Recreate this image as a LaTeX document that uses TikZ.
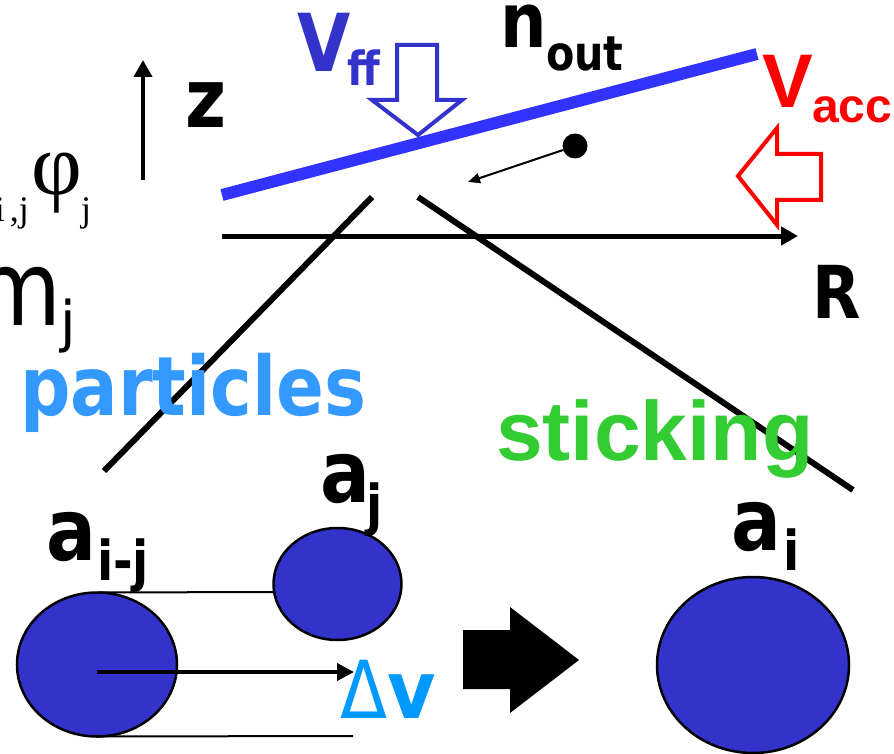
\documentclass[tikz,border=0pt]{standalone}
\usepackage{fontspec}
\usetikzlibrary{arrows.meta,shapes.geometric}
\newfontfamily\tah[FakeStretch=0.86]{DejaVu Sans}
\newfontfamily\tahw[FakeStretch=0.93]{DejaVu Sans}
\newfontfamily\dvs{DejaVu Sans}
\newfontfamily\ari{Liberation Sans}
\newfontfamily\tms{Liberation Serif}
\definecolor{surf}{RGB}{51,51,255}
\definecolor{vff}{RGB}{51,51,204}
\definecolor{part}{RGB}{51,153,255}
\definecolor{stick}{RGB}{51,204,51}
\definecolor{dvc}{RGB}{0,153,255}
\definecolor{acc}{RGB}{255,0,0}
\newcommand{\fsz}[1]{\fontsize{#1}{#1}\selectfont}
\begin{document}
\begin{tikzpicture}[x=1pt,y=-1pt,
  lbl/.style={anchor=base west,inner sep=0pt,outer sep=0pt},
  lble/.style={anchor=base east,inner sep=0pt,outer sep=0pt},
  grain/.style={ellipse,draw=black,line width=2.5pt,fill=vff,inner sep=0pt,outer sep=0pt},
  axisarrow/.style={line width=#1,-{Triangle[length=17pt,width=18pt]}},
  crossline/.style={line width=6pt},
  thinline/.style={line width=2pt},
  hollowarrow/.style={line width=4pt,fill=white,line join=miter},
]
\useasboundingbox (0,0) rectangle (894,754);
\clip (0,0) rectangle (894,754);

% ---- top: surface and axes ----
\coordinate (zb) at (143,180);
\coordinate (zt) at (143,60);
\draw[axisarrow=4pt] (zb) -- (zt);
\node[lbl] (zl) at (185,128) {\tah\bfseries\fsz{82}z};

\coordinate (sl) at (222,195);
\coordinate (sr) at (757,54);
\draw[line width=12pt,surf] (sl) -- (sr);

\coordinate (rl) at (222,236);
\coordinate (rr) at (798,236);
\draw[axisarrow=5pt] (rl) -- (rr);
\node[lbl] (rl2) at (812,318) {\tah\bfseries\fsz{73}R};

\coordinate (c1a) at (372,197);
\coordinate (c1b) at (104,471);
\coordinate (c2a) at (418,197);
\coordinate (c2b) at (853,490);
\draw[crossline] (c1a) -- (c1b);
\draw[crossline] (c2a) -- (c2b);

% V_ff hollow arrow
\draw[hollowarrow,draw=vff] (397,45) -- (437,45) -- (437,100) -- (462,100) -- (418,135) -- (372,100) -- (397,100) -- cycle;
\node[lbl,text=vff] (vff) at (297,72) {\tah\bfseries\fsz{80}V};
\node[lbl,text=vff] (vffs) at (347,86) {\tah\bfseries\fsz{47}ff};

% n_out
\node[lbl] (nout) at (500,48) {\tah\bfseries\fsz{76}n};
\node[lbl] (nouts) at (546,71) {\tah\bfseries\fsz{48}out};

% V_acc
\node[lbl,text=acc] (vacc) at (762,108) {\ari\bfseries\fsz{76}V};
\node[lbl,text=acc] (vaccs) at (812,123) {\ari\bfseries\fsz{48}acc};
\draw[hollowarrow,draw=acc] (821,154) -- (777,154) -- (777,128) -- (738,176) -- (777,225) -- (777,200) -- (821,200) -- cycle;

% particle and thin arrow
\node[circle,fill=black,inner sep=0pt,minimum size=25pt] (dot) at (575,146) {};
\coordinate (dtip) at (468,182);
\draw[thinline,-{Triangle[length=12pt,width=10pt]}] (dot) -- (dtip);

% left cut-off texts
\node[lble] (ii) at (5,222) {\tms\fsz{36}i};
\node[lble] (ij) at (29,222) {\tms\fsz{36},j};
\node[lbl] (phi) at (31,195) {\tms\fsz{88}φ};
\node[lbl] (phij) at (81,222) {\tms\fsz{36}j};
\node[lble] (mm) at (62,325) {\tah\fsz{104}m};
\node[lbl] (mj) at (60,341) {\dvs\fsz{56}j};

% labels
\node[lbl,text=part] (particles) at (20,415) {\tah\bfseries\fsz{82}particles};
\node[lbl,text=stick] (sticking) at (496,460) {\ari\bfseries\fsz{84}sticking};

% ---- bottom: grains ----
\node[grain,minimum width=160pt,minimum height=144pt] (big) at (97,664.5) {};
\node[grain,minimum width=128pt,minimum height=112pt] (small) at (337.5,584) {};
\node[grain,minimum width=192pt,minimum height=176pt] (res) at (753,665) {};

\coordinate (tl) at (274,592);
\coordinate (bl) at (353,736);
\draw[thinline] (big.north) -- (tl);
\draw[thinline] (big.south) -- (bl);
\coordinate (dvs) at (97,672);
\coordinate (dve) at (354,672);
\draw[line width=4pt,-{Triangle[length=17pt,width=17pt]}] (dvs) -- (dve);

\node[lbl] (aij) at (46,560) {\tah\bfseries\fsz{86}a};
\node[lbl] (aijs) at (97,580) {\tah\bfseries\fsz{55}i-j};
\node[lbl] (aj) at (320,502) {\tah\bfseries\fsz{86}a};
\node[lbl] (ajs) at (366,524) {\tah\bfseries\fsz{55}j};
\node[lbl] (ai) at (731,550) {\tah\bfseries\fsz{86}a};
\node[lbl] (ais) at (783,570) {\tah\bfseries\fsz{55}i};

\node[lbl,text=dvc] (dv) at (340,718) {\tah\fsz{80}Δ\tahw\bfseries\fsz{80}v};

% big block arrow
\fill[black] (463,630) -- (510,630) -- (510,607) -- (579,660) -- (510,713) -- (510,689) -- (463,689) -- cycle;
\end{tikzpicture}
\end{document}
